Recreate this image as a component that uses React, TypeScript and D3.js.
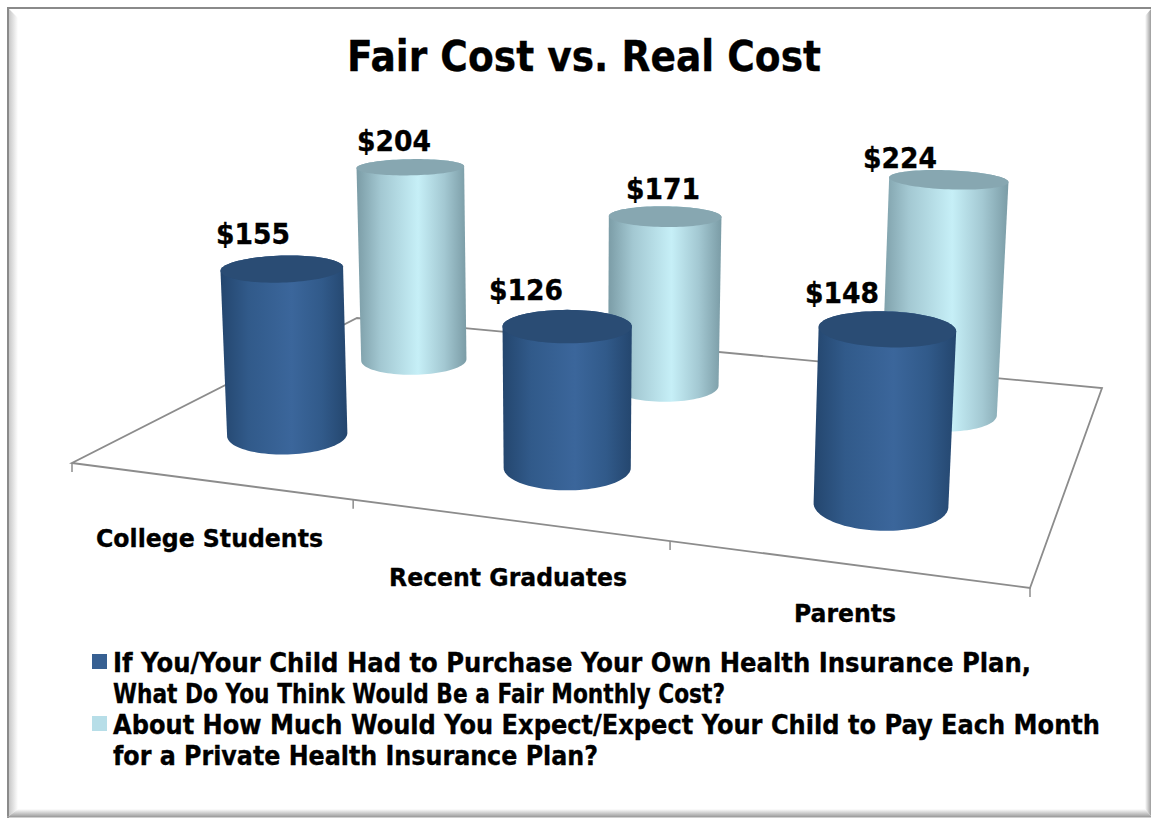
import React from "react";
import * as d3 from "d3";

const categories = ["College Students", "Recent Graduates", "Parents"];
const seriesA = [155, 126, 148];
const seriesB = [204, 171, 224];
const labelsA = ["$155", "$126", "$148"];
const labelsB = ["$204", "$171", "$224"];
const legendLines = [
  ["If You/Your Child Had to Purchase Your Own Health Insurance Plan,", "What Do You Think Would Be a Fair Monthly Cost?"],
  ["About How Much Would You Expect/Expect Your Child to Pay Each Month", "for a Private Health Insurance Plan?"],
];

const W = 1151, H = 818;
const FONT = "'DejaVu Sans', Verdana, sans-serif";
const CONDENSE = 0.85;
const [p0, p1, p2, p3] = [[72, 463], [1030, 588], [1102, 388], [357, 318]];
const dx1 = p1[0] - p2[0], dx2 = p3[0] - p2[0], sx = p0[0] - p1[0] + p2[0] - p3[0];
const dy1 = p1[1] - p2[1], dy2 = p3[1] - p2[1], sy = p0[1] - p1[1] + p2[1] - p3[1];
const den = dx1 * dy2 - dx2 * dy1;
const g = (sx * dy2 - dx2 * sy) / den, h = (dx1 * sy - sx * dy1) / den;
const a = p1[0] - p0[0] + g * p1[0], b = p3[0] - p0[0] + h * p3[0], c = p0[0];
const d = p1[1] - p0[1] + g * p1[1], e = p3[1] - p0[1] + h * p3[1], f = p0[1];
const VX = 570, VY = 9000, K = -0.000128;

const denom = (u: number, v: number, t: number) => g * u + h * v + 1 + t * K;
const project = (u: number, v: number, t = 0): [number, number] => {
  const w = denom(u, v, t);
  return [(a * u + b * v + c + t * K * VX) / w, (d * u + e * v + f + t * K * VY) / w];
};

const xBand = d3.scaleBand<string>().domain(categories).range([0, 1]);
const zScale = d3.scaleLinear().domain([0, 1]).range([0.25, 0.745]);
const heightScale = d3.scaleLinear().domain([0, 250]).range([0, 250]);
const RADIUS = 63;

// The camera looks down more steeply the lower a ring sits on the screen.
const ring = (u: number, v: number, t: number): [number, number][] => {
  const [cx, cy] = project(u, v, t);
  const rx = RADIUS / denom(u, v, t);
  const ry = rx * (0.15 + (cy - 166) * 0.00068);
  const tilt = ((cx - 570) / 300) * (1.8 * Math.PI / 180);
  return d3.range(96).map((i) => {
    const ang = (i / 96) * 2 * Math.PI;
    const ex = rx * Math.cos(ang), ey = ry * Math.sin(ang);
    return [cx + ex * Math.cos(tilt) - ey * Math.sin(tilt), cy + ex * Math.sin(tilt) + ey * Math.cos(tilt)];
  });
};
const toPath = (pts: [number, number][]) => d3.line()(pts) + "Z";

function Cylinder({ cat, depth, value, id }: { cat: string; depth: number; value: number; id: string }) {
  const u = xBand(cat)! + xBand.bandwidth() / 2;
  const v = zScale(depth);
  const t = heightScale(value);
  const bottom = ring(u, v, 0);
  const top = ring(u, v, t);
  const hull = d3.polygonHull([...bottom, ...top])!;
  return (
    <g>
      <path d={toPath(hull as [number, number][])} fill={`url(#${id})`} />
      <path d={toPath(top)} fill={depth === 0 ? "#2a4c74" : "#87a7b1"} />
    </g>
  );
}

const stops = (edge: string, mid: string, hi: string) => (
  <>
    <stop offset="0" stopColor={edge} />
    <stop offset="0.22" stopColor={mid} />
    <stop offset="0.56" stopColor={hi} />
    <stop offset="0.8" stopColor={mid} />
    <stop offset="1" stopColor={edge} />
  </>
);

export default function App() {
  const T = (p: { x: number; y: number; s: number; len: number; children: string }) => (
    <text
      transform={`translate(${p.x},${p.y}) scale(${CONDENSE},1)`}
      fontSize={p.s}
      fontWeight="bold"
      fontFamily={FONT}
      fill="#000"
      stroke="#000"
      strokeWidth={0.35}
      textLength={p.len / CONDENSE}
      lengthAdjust="spacingAndGlyphs"
    >
      {p.children}
    </text>
  );
  const floorPath = toPath([project(0, 0), project(1, 0), project(1, 1), project(0, 1)]);
  const ticks = d3.range(4).map((i) => {
    const s = project(i / 3, 0);
    return [s, [s[0], s[1] + 9]];
  });
  const catLabels = [
    { x: 96, y: 547, len: 227 },
    { x: 389, y: 586, len: 238 },
    { x: 794, y: 622, len: 102 },
  ];
  const valPos = [
    [{ x: 216, y: 244 }, { x: 489, y: 300 }, { x: 805, y: 303 }],
    [{ x: 357, y: 151 }, { x: 626, y: 199 }, { x: 863, y: 168 }],
  ];
  const legendLen = [[918, 612], [987, 485]];
  return (
    <svg width={W} height={H} viewBox={`0 0 ${W} ${H}`} style={{ position: "absolute", left: 0, top: 0 }}>
      <defs>
        <linearGradient id="cylA">{stops("#24466e", "#315a8a", "#3b669b")}</linearGradient>
        <linearGradient id="cylB">{stops("#7b9ca6", "#a3c8d2", "#c6eff7")}</linearGradient>
        <linearGradient id="bevL"><stop offset="0" stopColor="#c8c8c8" /><stop offset="1" stopColor="#ffffff" /></linearGradient>
        <linearGradient id="bevR"><stop offset="0" stopColor="#ffffff" /><stop offset="1" stopColor="#9c9c9c" /></linearGradient>
        <linearGradient id="bevB" x1="0" x2="0" y1="0" y2="1"><stop offset="0" stopColor="#ffffff" /><stop offset="1" stopColor="#a8a8a8" /></linearGradient>
      </defs>
      <rect x={0} y={0} width={W} height={H} fill="#fff" />
      <path d="M9,9 L18,18 L18,809 L9,816 Z" fill="url(#bevL)" />
      <path d="M9,816 L18,809 L1145,809 L1151,816 Z" fill="url(#bevB)" />
      <path d="M1151,9 L1145,16 L1145,809 L1151,816 Z" fill="url(#bevR)" />
      <rect x={7} y={7} width={1144} height={2} fill="#8a8a8a" />
      <rect x={7} y={7} width={2} height={811} fill="#8a8a8a" />
      <rect x={7} y={816} width={1144} height={1.5} fill="#a0a0a0" />
      <path d={floorPath} fill="#fff" stroke="#8c8c8c" strokeWidth={1.8} />
      {ticks.map((tk, i) => (
        <line key={i} x1={tk[0][0]} y1={tk[0][1]} x2={tk[1][0]} y2={tk[1][1]} stroke="#8c8c8c" strokeWidth={1.5} />
      ))}
      {categories.map((cat, i) => <Cylinder key={cat} cat={cat} depth={1} value={seriesB[i]} id="cylB" />)}
      {categories.map((cat, i) => <Cylinder key={cat} cat={cat} depth={0} value={seriesA[i]} id="cylA" />)}
      <T x={347} y={71} s={43} len={474}>Fair Cost vs. Real Cost</T>
      {labelsA.map((l, i) => <T key={l} x={valPos[0][i].x} y={valPos[0][i].y} s={29} len={74}>{l}</T>)}
      {labelsB.map((l, i) => <T key={l} x={valPos[1][i].x} y={valPos[1][i].y} s={29} len={74}>{l}</T>)}
      {categories.map((cat, i) => <T key={cat} x={catLabels[i].x} y={catLabels[i].y} s={25.5} len={catLabels[i].len}>{cat}</T>)}
      <rect x={92} y={654} width={15} height={15} fill="#376092" />
      <rect x={92} y={716} width={15} height={15} fill="#B7DEE8" />
      {legendLines.map((pair, i) =>
        pair.map((line, j) => (
          <T key={line} x={113} y={672 + i * 62 + j * 31} s={26.5} len={legendLen[i][j]}>{line}</T>
        ))
      )}
    </svg>
  );
}
